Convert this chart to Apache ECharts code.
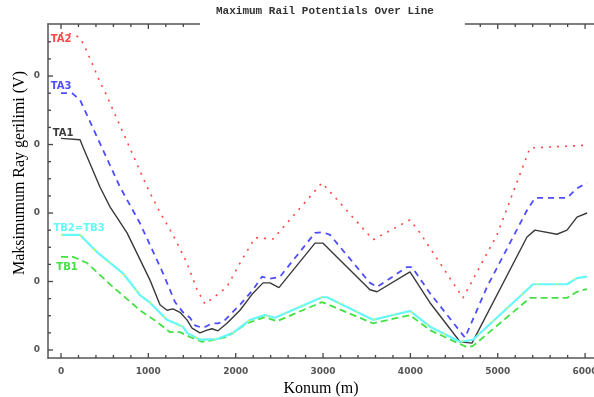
<!DOCTYPE html>
<html>
<head>
<meta charset="utf-8">
<script src="https://cdn.jsdelivr.net/npm/echarts@6/dist/echarts.min.js"></script>
<style>
  html, body { margin: 0; background: #fff; }
  #chart { width: 594px; height: 397px; }
</style>
</head>
<body>
<div id="chart"></div>
<script>
// ticks
const xMajorTicks = [0, 1000, 2000, 3000, 4000, 5000, 6000];
const xMinorTicks = [200, 400, 600, 800, 1200, 1400, 1600, 1800, 2200, 2400, 2600, 2800,
  3200, 3400, 3600, 3800, 4200, 4400, 4600, 4800, 5200, 5400, 5600, 5800];
const yMajorTicks = [0, 10, 20, 30, 40];
const yMinorTicks = [2.5, 5, 7.5, 12.5, 15, 17.5, 22.5, 25, 27.5, 32.5, 35, 37.5, 42.5, 45];

// series values [konum (m), gerilim]
const ta2 = [[0, 46.3], [150, 46.1], [220, 45.5], [275, 44.2], [355, 41.9], [446, 39.1], [504, 37.7],
  [985, 23.8], [1133, 20.1], [1282, 16.8], [1442, 12.7], [1557, 8.8], [1649, 6.7], [1900, 9.2],
  [2049, 12.7], [2221, 16.4], [2427, 16.2], [2988, 24.4], [3572, 16.1], [3995, 19.0], [4110, 17.1],
  [4602, 7.6], [4991, 16.8], [5369, 29.5], [6022, 29.9]];
const ta3 = [[0, 37.5], [126, 37.5], [218, 36.5], [675, 23.8], [904, 18.5], [1168, 11.2], [1305, 7.0],
  [1397, 5.5], [1477, 4.7], [1534, 3.6], [1626, 3.2], [1729, 3.9], [1797, 3.9], [1855, 4.1],
  [2049, 6.6], [2198, 8.8], [2301, 10.7], [2393, 10.4], [2507, 10.7], [2908, 17.1], [3000, 17.2],
  [3080, 16.8], [3537, 9.8], [3618, 9.2], [3961, 12.1], [4018, 12.1], [4224, 8.3], [4625, 1.8],
  [4877, 9.2], [5335, 20.4], [5426, 22.2], [5793, 22.2], [5907, 23.6], [6022, 24.4]];
const ta1 = [[0, 30.9], [218, 30.7], [252, 29.6], [446, 23.8], [561, 20.9], [756, 17.1], [1019, 10.2],
  [1133, 6.6], [1214, 5.8], [1282, 6.0], [1362, 5.5], [1442, 4.4], [1500, 3.2], [1591, 2.5],
  [1671, 2.9], [1729, 3.1], [1797, 2.8], [1900, 3.9], [2049, 5.8], [2198, 8.3], [2313, 9.8],
  [2393, 9.8], [2495, 9.1], [2908, 15.6], [3000, 15.6], [3537, 8.8], [3618, 8.5], [3995, 11.4],
  [4224, 6.9], [4568, 1.2], [4705, 1.0], [5335, 16.5], [5426, 17.5], [5678, 16.9], [5793, 17.5],
  [5907, 19.4], [6022, 20.0]];
const tb23 = [[0, 16.8], [218, 16.8], [412, 14.3], [710, 11.2], [904, 8.0], [1019, 6.9], [1214, 4.4],
  [1397, 3.4], [1442, 2.5], [1591, 1.5], [1786, 1.6], [1969, 2.5], [2164, 4.4], [2335, 5.1],
  [2450, 4.7], [2988, 7.7], [3045, 7.7], [3572, 4.4], [3995, 5.7], [4224, 3.4], [4568, 1.2],
  [4717, 1.5], [5404, 9.6], [5793, 9.6], [5907, 10.5], [6022, 10.7]];
const tb1 = [[0, 13.6], [137, 13.6], [298, 12.7], [595, 9.2], [904, 5.8], [1099, 4.1], [1248, 2.6],
  [1362, 2.6], [1477, 1.9], [1614, 1.2], [1763, 1.5], [1900, 1.9], [2129, 3.9], [2335, 4.8],
  [2473, 4.2], [2988, 7.0], [3572, 3.9], [3995, 5.1], [4224, 2.9], [4648, 0.4], [4717, 0.6],
  [5369, 7.6], [5793, 7.6], [5907, 8.5], [6022, 8.9]];

const X_MIN = -149, X_MAX = 6102;
const Y_MIN = -1.17, Y_MAX = 47.6;

const axisColor = '#555';
const tickFont = { fontFamily: 'DejaVu Sans', fontWeight: 'bold', fontSize: 9, color: '#555' };

function lineSeries(name, data, color, width, dash, label, offset) {
  const s = {
    name: name, type: 'line', data: data, symbol: 'none',
    lineStyle: { color: color, width: width, type: dash },
    z: 3
  };
  if (label) {
    s.markPoint = {
      symbol: 'circle', symbolSize: 0, silent: true,
      data: [{ coord: data[0], name: label }],
      label: {
        show: true, formatter: '{b}', position: 'inside', offset: offset,
        color: color, fontFamily: 'DejaVu Sans', fontWeight: 'bold', fontSize: 10
      }
    };
  }
  return s;
}

const chart = echarts.init(document.getElementById('chart'), null, { renderer: 'canvas' });

chart.setOption({
  animation: false,
  backgroundColor: '#fff',
  title: {
    text: 'Maximum Rail Potentials Over Line',
    left: 200, top: 0, z: 60,
    padding: [6, 31, 14, 16],
    backgroundColor: '#fff',
    textStyle: { fontFamily: 'Liberation Mono', fontWeight: 'bold', fontSize: 11, color: '#333' }
  },
  grid: { left: 48, right: 0, top: 24, bottom: 39, containLabel: false, outerBoundsMode: 'none' },
  xAxis: [{
    type: 'value', position: 'bottom', min: X_MIN, max: X_MAX,
    axisLine: { show: true, onZero: false, lineStyle: { color: axisColor, width: 1.5 } },
    axisTick: { show: false },
    axisLabel: { customValues: xMajorTicks, margin: 9, formatter: v => String(v), ...tickFont },
    splitLine: { show: false },
    name: 'Konum (m)', nameLocation: 'middle', nameGap: 20,
    nameTextStyle: { fontFamily: 'Liberation Serif', fontSize: 16, color: '#000' }
  }, {
    type: 'value', position: 'top', min: X_MIN, max: X_MAX,
    axisLine: { show: true, onZero: false, lineStyle: { color: axisColor, width: 1.5 } },
    axisTick: { show: false }, axisLabel: { show: false }, splitLine: { show: false }
  }],
  yAxis: [{
    type: 'value', position: 'left', min: Y_MIN, max: Y_MAX,
    axisLine: { show: true, onZero: false, lineStyle: { color: axisColor, width: 1.5 } },
    axisTick: { show: false },
    axisLabel: { customValues: yMajorTicks, margin: 8, formatter: v => String(v).slice(-1), ...tickFont },
    splitLine: { show: false },
    name: 'Maksimumum Ray gerilimi (V)', nameLocation: 'middle', nameGap: 20, nameMoveOverlap: false,
    nameTextStyle: { fontFamily: 'Liberation Serif', fontSize: 16, color: '#000', padding: [0, 0, 0, 36] }
  }],
  series: [
    lineSeries('TA2', ta2, '#ff4444', 1.6, [2, 6], 'TA2', [0, 7]),
    lineSeries('TA3', ta3, '#4d4dff', 1.8, [6, 5], 'TA3', [0, -7]),
    lineSeries('TA1', ta1, '#3a3a3a', 1.4, 'solid', 'TA1', [2, -5]),
    lineSeries('TB1', tb1, '#44e044', 1.8, [7, 4], 'TB1', [6, 11]),
    lineSeries('TB2', tb23, '#66f8f8', 2.2, 'solid', 'TB2=TB3', [18, -7]),
    lineSeries('TB3', tb23, '#f0f040', 1.5, [1.5, 18], null, null)
  ]
});

// tick marks inside the frame, placed through the chart's own scales
const tickStyle = { stroke: '#444', lineWidth: 1.3 };
const ticks = [];
function xTicks(values, len) {
  values.forEach(v => {
    const b = chart.convertToPixel({ gridIndex: 0 }, [v, Y_MIN]);
    const t = chart.convertToPixel({ gridIndex: 0 }, [v, Y_MAX]);
    ticks.push({ type: 'line', silent: true, z: 50, shape: { x1: b[0], y1: b[1], x2: b[0], y2: b[1] - len }, style: tickStyle });
    ticks.push({ type: 'line', silent: true, z: 50, shape: { x1: t[0], y1: t[1], x2: t[0], y2: t[1] + len }, style: tickStyle });
  });
}
function yTicks(values, len) {
  values.forEach(v => {
    const l = chart.convertToPixel({ gridIndex: 0 }, [X_MIN, v]);
    ticks.push({ type: 'line', silent: true, z: 50, shape: { x1: l[0], y1: l[1], x2: l[0] + len, y2: l[1] }, style: tickStyle });
  });
}
xTicks(xMajorTicks, 5);
xTicks(xMinorTicks, 3);
yTicks(yMajorTicks, 5);
yTicks(yMinorTicks, 3);
chart.setOption({ graphic: ticks });
</script>
</body>
</html>
